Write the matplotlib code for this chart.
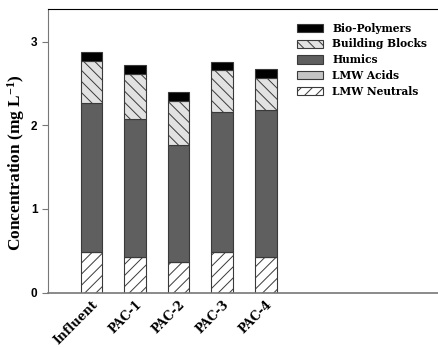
import numpy as np
import matplotlib
matplotlib.use("Agg")
import matplotlib.pyplot as plt

# Stacked LC-OCD fractions per sample (mg/L)
samples = ["Influent", "PAC-1", "PAC-2", "PAC-3", "PAC-4"]
lmw_neutrals = [0.48, 0.43, 0.37, 0.48, 0.42]
lmw_acids = [0.0, 0.0, 0.0, 0.0, 0.0]
humics = [1.79, 1.64, 1.39, 1.68, 1.76]
building_blocks = [0.50, 0.54, 0.53, 0.50, 0.39]
bio_polymers = [0.11, 0.11, 0.11, 0.10, 0.10]


def plot_fractions():
    plt.rcParams["hatch.linewidth"] = 0.7
    plt.rcParams["mathtext.fontset"] = "custom"
    plt.rcParams["mathtext.rm"] = "Liberation Serif:bold"
    plt.rcParams["mathtext.default"] = "rm"

    fig = plt.figure(figsize=(4.38, 3.47), dpi=100)
    ax = fig.add_axes([0.1096, 0.157, 0.8904, 0.817])

    x = np.arange(len(samples))
    w = 0.5
    edge = "#3a3a3a"

    bottom = np.zeros(len(samples))
    layers = [
        (lmw_neutrals, "LMW Neutrals", "white", "///"),
        (lmw_acids, "LMW Acids", "#c4c4c4", None),
        (humics, "Humics", "#5f5f5f", None),
        (building_blocks, "Building Blocks", "#e2e2e2", "\\\\\\"),
        (bio_polymers, "Bio-Polymers", "black", None),
    ]
    handles = []
    for vals, label, color, hatch in layers:
        b = ax.bar(x, vals, w, bottom=bottom, color=color, edgecolor=edge,
                   linewidth=0.8, hatch=hatch, label=label)
        handles.append(b)
        bottom += np.array(vals)

    ax.set_xlim(-1, 7.96)
    ax.set_ylim(0, 3.39)
    ax.set_yticks([0, 1, 2, 3])
    ax.set_yticklabels(["0", "1", "2", "3"], fontfamily="Liberation Sans",
                       fontweight="bold", fontsize=8.5)
    ax.set_xticks(x)
    ax.set_xticklabels(samples, rotation=45, ha="right", rotation_mode="anchor",
                       fontfamily="DejaVu Serif", fontweight="bold", fontsize=8.8)
    ax.tick_params(axis="x", length=0, pad=4)
    ax.tick_params(axis="y", length=4, width=0.8, color="#777777", direction="out")

    ax.spines["right"].set_visible(False)
    ax.spines["left"].set_color("#777777")
    ax.spines["bottom"].set_color("#777777")
    ax.spines["bottom"].set_linewidth(1.2)
    ax.spines["top"].set_color("black")

    fig.text(16 / 438, 1 - 163 / 347, r"Concentration (mg L$^{-1}$)",
             rotation=90, ha="center", va="center",
             fontfamily="Liberation Serif", fontweight="bold", fontsize=12.5)

    ax.legend(handles[::-1], [h.get_label() for h in handles[::-1]],
              loc="upper left", bbox_to_anchor=(293 / 438, 0.947),
              bbox_transform=fig.transFigure, frameon=False,
              prop={"family": "DejaVu Serif", "weight": "bold", "size": 7.7},
              handlelength=2.45, handleheight=0.8, labelspacing=0.45,
              handletextpad=0.8, borderaxespad=0)

    fig.savefig("out.png", dpi=100)


plot_fractions()
